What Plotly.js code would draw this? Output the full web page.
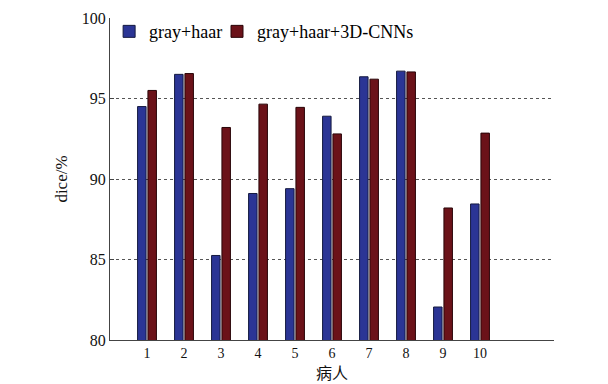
<!DOCTYPE html>
<html>
<head>
<meta charset="utf-8">
<script src="https://cdn.plot.ly/plotly-3.0.1.min.js"></script>
<style>html,body{margin:0;padding:0;background:#fff;}#chart{width:608px;height:384px;}</style>
</head>
<body>
<div id="chart"></div>
<script>
const categories = [1, 2, 3, 4, 5, 6, 7, 8, 9, 10];
const seriesNames = ["gray+haar", "gray+haar+3D-CNNs"];
const grayHaar = [94.5, 96.5, 85.25, 89.1, 89.4, 93.9, 96.35, 96.7, 82.05, 88.45];
const grayHaar3D = [95.5, 96.55, 93.2, 94.65, 94.45, 92.8, 96.2, 96.65, 88.2, 92.85];
const yTicks = [80, 85, 90, 95, 100];

const serif = "Liberation Serif, Times New Roman, serif";
const traces = [
  {type: "bar", name: seriesNames[0], x: categories, y: grayHaar, legend: "legend",
   marker: {color: "#2b3595", line: {color: "#151a40", width: 1}}},
  {type: "bar", name: seriesNames[1], x: categories, y: grayHaar3D, legend: "legend2",
   marker: {color: "#6b1219", line: {color: "#2a0508", width: 1}}}
];
const legendBase = {orientation: "h", y: 1.015, xanchor: "left", yanchor: "top",
  font: {family: serif, size: 18, color: "#000"}, bgcolor: "rgba(255,255,255,0)",
  itemwidth: 30};
const layout = {
  width: 608, height: 384,
  margin: {l: 110, r: 54, t: 18, b: 44},
  paper_bgcolor: "#fff", plot_bgcolor: "#fff",
  barmode: "group", bargap: 0.44, bargroupgap: 0.18,
  showlegend: true,
  legend: Object.assign({}, legendBase, {x: -0.002}),
  legend2: Object.assign({}, legendBase, {x: 0.241}),
  font: {family: serif, color: "#111"},
  xaxis: {range: [0, 12], tickvals: categories, ticktext: categories.map(String),
          showline: true, linecolor: "#444", linewidth: 1, showgrid: false, zeroline: false,
          ticks: "", tickfont: {family: serif, size: 14, color: "#111"},
          title: {text: "病人", font: {family: "Noto Sans CJK SC", size: 16, color: "#111"}, standoff: 4}},
  yaxis: {range: [80, 100], tickvals: yTicks, showline: true, linecolor: "#444", linewidth: 1,
          ticks: "inside", ticklen: 4, tickcolor: "#444",
          showgrid: true, gridcolor: "#555", griddash: "dot", gridwidth: 1, zeroline: false,
          tickfont: {family: serif, size: 16, color: "#111"},
          title: {text: "dice/%", font: {family: serif, size: 17, color: "#111"}, standoff: 9}}
};
Plotly.newPlot("chart", traces, layout, {staticPlot: true, displayModeBar: false});
</script>
</body>
</html>
